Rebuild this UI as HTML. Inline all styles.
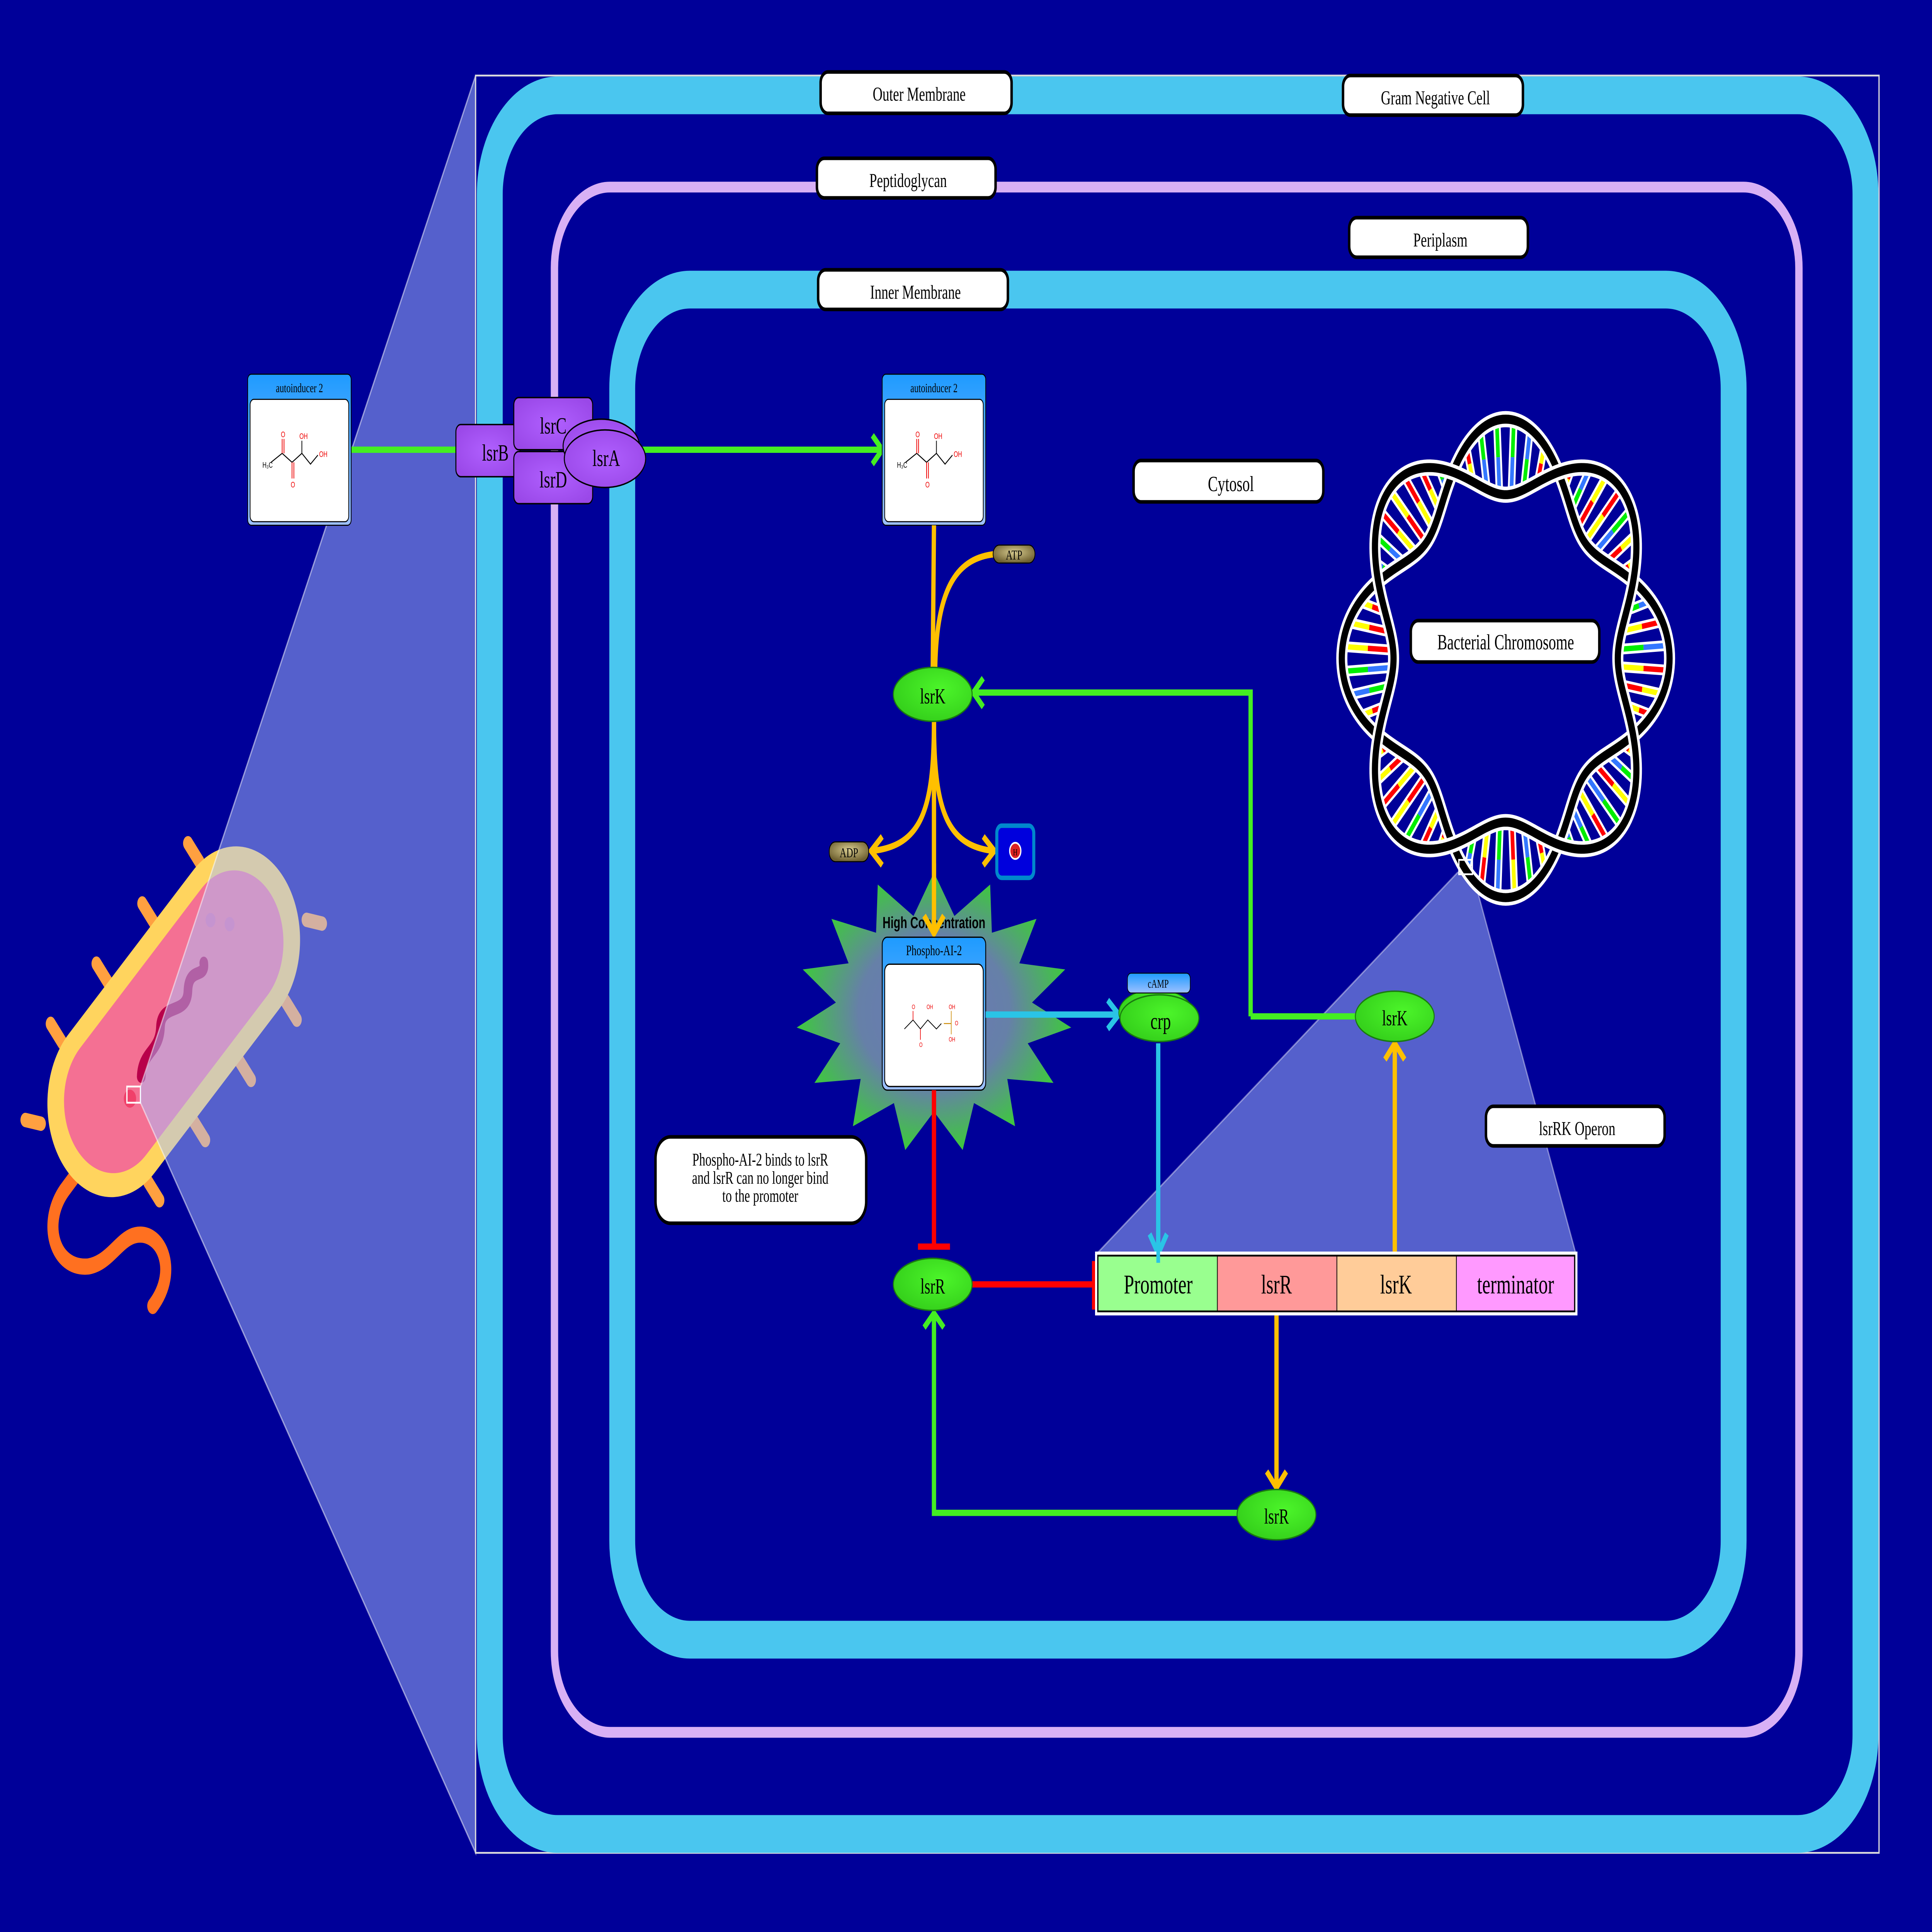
<!DOCTYPE html>
<html><head><meta charset="utf-8"><style>
html,body{margin:0;padding:0;background:#000099;overflow:hidden;width:100%;height:100%;}
#s{position:fixed;left:0;top:0;width:100vw;height:100vh;display:block;}
text{font-family:"Liberation Serif",serif;}
text.sans{font-family:"Liberation Sans",sans-serif;}
</style></head><body>
<svg id="s" viewBox="0 0 1568 1074" preserveAspectRatio="none" xmlns="http://www.w3.org/2000/svg">
<defs>
<radialGradient id="star" cx="50%" cy="50%" r="50%">
<stop offset="0" stop-color="#6a78b8"/><stop offset="0.55" stop-color="#6680a8"/><stop offset="1" stop-color="#3ec83e"/>
</radialGradient>
<linearGradient id="hdr" x1="0" y1="0" x2="0" y2="1">
<stop offset="0" stop-color="#1e9bff"/><stop offset="1" stop-color="#9ec0ff"/>
</linearGradient>
<radialGradient id="gr" cx="60%" cy="40%" r="60%">
<stop offset="0" stop-color="#4cf52a"/><stop offset="1" stop-color="#36d21c"/>
</radialGradient>
<radialGradient id="pill" cx="50%" cy="40%" r="60%">
<stop offset="0" stop-color="#d8cc90"/><stop offset="1" stop-color="#6e6030"/>
</radialGradient>
<radialGradient id="pu" cx="50%" cy="50%" r="60%">
<stop offset="0" stop-color="#b060ff"/><stop offset="1" stop-color="#9a48e8"/>
</radialGradient>
</defs>
<rect width="1568" height="1074" fill="#000099"/>

<!-- bacterium -->
<path d="M80,636 L52,662 C34,680 44,706 72,704 C88,702 96,690 108,687 C130,682 146,706 124,726" fill="none" stroke="#ff7020" stroke-width="9" stroke-linecap="round"/>
<g transform="translate(141,568) rotate(-42)" stroke="#ffa040" stroke-width="8" stroke-linecap="round">
<line x1="-75" y1="-52" x2="-75" y2="-66"/><line x1="-25" y1="-52" x2="-25" y2="-66"/><line x1="25" y1="-52" x2="25" y2="-66"/><line x1="75" y1="-52" x2="75" y2="-66"/>
<line x1="-75" y1="52" x2="-75" y2="66"/><line x1="-25" y1="52" x2="-25" y2="66"/><line x1="25" y1="52" x2="25" y2="66"/><line x1="75" y1="52" x2="75" y2="66"/>
<line x1="-118" y1="-30" x2="-126" y2="-40"/><line x1="118" y1="30" x2="126" y2="40"/>
</g>
<g transform="translate(141,568) rotate(-42)">
<rect x="-120" y="-52" width="240" height="104" rx="52" fill="#ffd45e"/>
<rect x="-106" y="-40" width="212" height="80" rx="40" fill="#f47093"/>
<circle cx="-55" cy="8" r="5" fill="#f0406a"/>
<circle cx="60" cy="-22" r="4" fill="#e068a0"/><circle cx="70" cy="-10" r="4" fill="#e068a0"/>
<path d="M-40,5 C-30,-5 -20,5 -10,-5 S10,5 20,-5 S35,0 40,-8" fill="none" stroke="#b8004a" stroke-width="7" stroke-linecap="round"/>
</g>
<rect x="103" y="604" width="11" height="9" fill="none" stroke="#fff" stroke-width="1"/>
<polygon points="114,604 386,42 386,1030 114,613" fill="rgba(170,192,255,0.5)" stroke="rgba(255,255,255,0.5)" stroke-width="1"/>

<!-- frame + membranes -->
<rect x="386" y="42" width="1139" height="988" fill="none" stroke="#ddd" stroke-width="1"/>
<rect x="397.5" y="53" width="1116.5" height="966.5" rx="55" fill="none" stroke="#4ac6ef" stroke-width="21"/>
<rect x="450" y="104" width="1010" height="859" rx="45" fill="none" stroke="#d8b0f5" stroke-width="6"/>
<rect x="505" y="161" width="902" height="750.5" rx="55" fill="none" stroke="#4ac6ef" stroke-width="21"/>

<!-- DNA magnifier -->
<polygon points="1183,485 1195,485 1279,697 890,697" fill="rgba(170,192,255,0.5)" stroke="rgba(255,255,255,0.4)" stroke-width="1"/>

<!-- labels -->
<g stroke="#000" stroke-width="2" fill="#fff">
<rect x="666" y="40" width="155" height="23" rx="6"/>
<rect x="1090" y="42" width="146" height="22" rx="6"/>
<rect x="663" y="88" width="145" height="22" rx="6"/>
<rect x="1095" y="121" width="145" height="22" rx="6"/>
<rect x="664" y="150" width="154" height="22" rx="6"/>
<rect x="920" y="256" width="154" height="23" rx="6"/>
<rect x="1206" y="615" width="145" height="22" rx="6"/>
<rect x="532" y="632" width="171" height="48" rx="12"/>
</g>
<g font-size="11" text-anchor="middle" fill="#000">
<text x="746" y="56">Outer Membrane</text>
<text x="1165" y="58">Gram Negative Cell</text>
<text x="737" y="104">Peptidoglycan</text>
<text x="1169" y="137">Periplasm</text>
<text x="743" y="166">Inner Membrane</text>
<text x="999" y="273" font-size="12">Cytosol</text>
<text x="1280" y="631">lsrRK Operon</text>
<text x="617" y="648" font-size="10">Phospho-AI-2 binds to lsrR</text>
<text x="617" y="658" font-size="10">and lsrR can no longer bind</text>
<text x="617" y="668" font-size="10">to the promoter</text>
</g>

<!-- green lines -->
<g stroke="#44ee22" stroke-width="3.5" fill="none">
<line x1="285" y1="250" x2="372" y2="250"/>
<line x1="520" y1="250" x2="715" y2="250"/>
<polyline points="708,242 716,250 708,258"/>
<polyline points="1015,565 1015,385 790,385"/>
<line x1="1100" y1="565" x2="1015" y2="565"/>
<polyline points="798,377 790,385 798,393"/>
<polyline points="1004,841 758,841 758,730"/>
<polyline points="750,738 758,730 766,738"/>
</g>

<!-- Lsr transporter -->
<g stroke="#000" stroke-width="0.8">
<rect x="370" y="236" width="52" height="29" rx="4" fill="url(#pu)"/>
<rect x="417" y="221" width="64" height="29" rx="4" fill="url(#pu)"/>
<rect x="417" y="251" width="64" height="29" rx="4" fill="url(#pu)"/>
<ellipse cx="488" cy="248" rx="31" ry="15" fill="url(#pu)"/>
<ellipse cx="491" cy="255" rx="33" ry="16" fill="url(#pu)"/>
</g>
<g font-size="13" text-anchor="middle" fill="#000">
<text x="402" y="256">lsrB</text><text x="449" y="241">lsrC</text><text x="449" y="271">lsrD</text><text x="492" y="259">lsrA</text>
</g>

<!-- AI-2 boxes -->
<g id="ai2">
<rect x="201" y="208" width="84" height="84" rx="3" fill="url(#hdr)" stroke="#000" stroke-width="0.6"/>
<rect x="203" y="222" width="80" height="68" rx="3" fill="#fff" stroke="#000" stroke-width="0.6"/>
<text x="243" y="218" font-size="7" text-anchor="middle">autoinducer 2</text>
<g stroke="#000" stroke-width="0.6" fill="none">
<polyline points="220,257 229,252 237,257 245,252 252,258 258,253"/>
<line x1="229" y1="252" x2="229" y2="244" stroke="#e00"/><line x1="230.5" y1="252" x2="230.5" y2="244" stroke="#e00"/>
<line x1="237" y1="257" x2="237" y2="266" stroke="#e00"/><line x1="238.5" y1="257" x2="238.5" y2="266" stroke="#e00"/>
<line x1="245" y1="252" x2="245" y2="245"/>
</g>
<g font-size="4.5" fill="#e00"><text class="sans" x="228" y="243">O</text><text class="sans" x="236" y="271">O</text><text class="sans" x="243" y="244">OH</text><text class="sans" x="259" y="254">OH</text></g>
<text class="sans" x="213" y="260" font-size="4.5">H₃C</text>
</g>
<use href="#ai2" transform="translate(515,0)"/>

<!-- yellow -->
<g stroke="#ffc000" stroke-width="3.5" fill="none">
<line x1="758" y1="292" x2="757" y2="372"/>
<path d="M808,308 C778,310 760,325 759,372"/>
<line x1="758" y1="401" x2="758" y2="519"/>
<path d="M758,401 C758,450 748,470 708,473"/>
<polyline points="716,465 707,473 716,481"/>
<path d="M758,401 C758,450 768,470 806,473"/>
<polyline points="798,465 807,473 798,481"/>
<line x1="1132" y1="697" x2="1132" y2="581"/>
<polyline points="1124,589 1132,580 1140,589"/>
<line x1="1036" y1="730" x2="1036" y2="826"/>
<polyline points="1028,818 1036,827 1044,818"/>
</g>
<rect x="806" y="303" width="34" height="10" rx="5" fill="url(#pill)" stroke="#000" stroke-width="0.6"/>
<text x="823" y="311" font-size="7.5" text-anchor="middle">ATP</text>
<rect x="673" y="468" width="32" height="11" rx="5" fill="url(#pill)" stroke="#000" stroke-width="0.6"/>
<text x="689" y="476.5" font-size="7.5" text-anchor="middle">ADP</text>
<rect x="809" y="459" width="30" height="29" rx="4" fill="#0000dd" stroke="#0088cc" stroke-width="2.5"/>
<circle cx="824" cy="473" r="4.5" fill="#dd2222" stroke="#fff" stroke-width="1"/>
<text x="824" y="475.5" font-size="5" text-anchor="middle">H</text>

<ellipse cx="757" cy="386" rx="32" ry="15" fill="url(#gr)" stroke="#1a7a10" stroke-width="0.8"/>
<text x="757" y="391" font-size="12" text-anchor="middle">lsrK</text>

<!-- starburst -->
<polygon id="starp" fill="url(#star)"/>
<text class="sans" x="758" y="516" font-size="9" font-weight="bold" text-anchor="middle">High Concentration</text>
<line x1="758" y1="480" x2="758" y2="519" stroke="#ffc000" stroke-width="3.5"/>
<polyline points="750,509 758,519 766,509" stroke="#ffc000" stroke-width="3.5" fill="none"/>
<rect x="716" y="521" width="84" height="85" rx="4" fill="url(#hdr)" stroke="#000" stroke-width="0.7"/>
<rect x="718" y="536" width="80" height="68" rx="4" fill="#fff" stroke="#000" stroke-width="0.7"/>
<text x="758" y="531" font-size="8" text-anchor="middle">Phospho-AI-2</text>
<g stroke="#000" stroke-width="0.5" fill="none">
<polyline points="734,572 741,567 747,572 753,567 760,572 764,569"/>
<line x1="741" y1="567" x2="741" y2="562" stroke="#e00"/><line x1="747" y1="572" x2="747" y2="578" stroke="#e00"/>
<line x1="766" y1="569" x2="772" y2="569" stroke="#c80"/><line x1="772" y1="562" x2="772" y2="575" stroke="#c80"/>
</g>
<g font-size="3.5" fill="#e00"><text class="sans" x="740" y="561">O</text><text class="sans" x="746" y="582">O</text><text class="sans" x="752" y="561">OH</text><text class="sans" x="770" y="561">OH</text><text class="sans" x="770" y="579">OH</text><text class="sans" x="775" y="570">O</text></g>

<!-- cyan -->
<g stroke="#2ac4e6" stroke-width="3.5" fill="none">
<line x1="800" y1="564" x2="907" y2="564"/>
<polyline points="899,556 908,564 899,572"/>
<line x1="940" y1="580" x2="940" y2="696"/>
<polyline points="933,686 940,697 947,686"/>
</g>
<ellipse cx="938" cy="563" rx="30" ry="13" fill="url(#gr)" stroke="#1a7a10" stroke-width="0.6"/>
<ellipse cx="941" cy="566" rx="32" ry="13" fill="url(#gr)" stroke="#1a7a10" stroke-width="0.8"/>
<rect x="915" y="541" width="51" height="11" rx="3" fill="url(#hdr)" stroke="#000" stroke-width="0.5"/>
<text x="940" y="549" font-size="6.5" text-anchor="middle">cAMP</text>
<text x="942" y="572" font-size="13" text-anchor="middle">crp</text>

<!-- red -->
<g stroke="#ff0000" stroke-width="3.5" fill="none">
<line x1="758" y1="606" x2="758" y2="693"/>
<line x1="745" y1="693" x2="771" y2="693"/>
<line x1="789" y1="714" x2="888" y2="714"/>
<line x1="888" y1="701" x2="888" y2="728"/>
</g>
<ellipse cx="757" cy="714" rx="32" ry="14.5" fill="url(#gr)" stroke="#1a7a10" stroke-width="0.8"/>
<text x="757" y="719" font-size="12" text-anchor="middle">lsrR</text>
<ellipse cx="1132" cy="565" rx="32" ry="14" fill="url(#gr)" stroke="#1a7a10" stroke-width="0.8"/>
<text x="1132" y="570" font-size="12" text-anchor="middle">lsrK</text>
<ellipse cx="1036" cy="842" rx="32" ry="14" fill="url(#gr)" stroke="#1a7a10" stroke-width="0.8"/>
<text x="1036" y="847" font-size="12" text-anchor="middle">lsrR</text>

<!-- operon -->
<rect x="890" y="697" width="389" height="33" fill="none" stroke="#fff" stroke-width="2.5"/>
<rect x="891" y="698" width="97" height="31" fill="#99ff8f"/>
<rect x="988" y="698" width="97" height="31" fill="#ff9999"/>
<rect x="1085" y="698" width="97" height="31" fill="#ffcc99"/>
<rect x="1182" y="698" width="96" height="31" fill="#ff99ff"/>
<g stroke="#000" stroke-width="0.6"><rect x="891" y="698" width="387" height="31" fill="none" stroke-width="1"/><line x1="988" y1="698" x2="988" y2="729"/><line x1="1085" y1="698" x2="1085" y2="729"/><line x1="1182" y1="698" x2="1182" y2="729"/></g>
<g font-size="15" text-anchor="middle"><text x="940" y="719">Promoter</text><text x="1036" y="719">lsrR</text><text x="1133" y="719">lsrK</text><text x="1230" y="719">terminator</text></g>
<line x1="940" y1="686" x2="940" y2="702" stroke="#2ac4e6" stroke-width="3"/>

<!-- DNA -->
<g id="dna"></g>
<rect x="1145" y="345" width="153" height="23" rx="6" fill="#fff" stroke="#000" stroke-width="2"/>
<text x="1222" y="361" font-size="12" text-anchor="middle">Bacterial Chromosome</text>
<rect x="1184" y="478" width="11" height="8" fill="none" stroke="#fff" stroke-width="1"/>
</svg>
<script>
(function(){
var NS="http://www.w3.org/2000/svg";
function el(t,a,p){var e=document.createElementNS(NS,t);for(var k in a)e.setAttribute(k,a[k]);p.appendChild(e);return e;}
var pts=[],cx=758,cy=563,n=15;
for(var i=0;i<2*n;i++){var a=-Math.PI/2+i*Math.PI/n;var o=(i%2==0);var rx=o?112:80,ry=o?78:55;pts.push((cx+rx*Math.cos(a)).toFixed(1)+","+(cy+ry*Math.sin(a)).toFixed(1));}
document.getElementById("starp").setAttribute("points",pts.join(" "));
var g=document.getElementById("dna");var X=1222,Y=366,R=112,A=21;
function r1(t){return R+A*Math.cos(4*(t+Math.PI/2));}
function r2(t){return R-A*Math.cos(4*(t+Math.PI/2));}
var seed=7;function rnd(){seed=(seed*9301+49297)%233280;return seed/233280;}
var pairs=[["#ff0000","#ffff00"],["#00ee00","#3377ff"]];
var rungs=el("g",{},g);
for(var k=0;k<60;k++){var t=k*2*Math.PI/60+0.05;var a=r1(t),b=r2(t);if(Math.abs(a-b)<10)continue;
var m=(a+b)/2;var c=Math.cos(t),s=Math.sin(t);
var p=pairs[rnd()<0.5?0:1];if(rnd()<0.5)p=[p[1],p[0]];
el("line",{x1:X+a*c,y1:Y+a*s,x2:X+b*c,y2:Y+b*s,stroke:"#fff","stroke-width":6},rungs);
el("line",{x1:X+a*c,y1:Y+a*s,x2:X+m*c,y2:Y+m*s,stroke:p[0],"stroke-width":3},rungs);
el("line",{x1:X+m*c,y1:Y+m*s,x2:X+b*c,y2:Y+b*s,stroke:p[1],"stroke-width":3},rungs);}
function path(f){var d="";for(var i=0;i<=360;i++){var t=i*2*Math.PI/360;var r=f(t);d+=(i?"L":"M")+(X+r*Math.cos(t)).toFixed(2)+","+(Y+r*Math.sin(t)).toFixed(2);}return d+"Z";}
var d1=path(r1),d2=path(r2);
el("path",{d:d1,fill:"none",stroke:"#fff","stroke-width":9},g);
el("path",{d:d1,fill:"none",stroke:"#000","stroke-width":5},g);
el("path",{d:d2,fill:"none",stroke:"#fff","stroke-width":9},g);
el("path",{d:d2,fill:"none",stroke:"#000","stroke-width":5},g);
})();
</script>
</body></html>
